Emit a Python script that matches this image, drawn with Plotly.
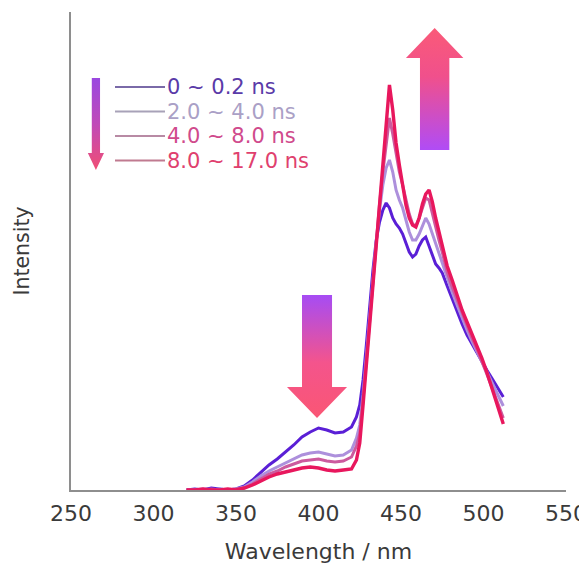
import plotly.graph_objects as go

# ---------------- data ----------------
wavelength = [320, 325, 330, 335, 340, 345, 350, 355, 360, 365, 370, 375, 380, 385, 390, 395,
              400, 405, 410, 415, 420, 423, 425, 427, 429, 431, 433, 435, 437, 439, 441, 443,
              445, 447, 449, 451, 453, 455, 457, 459, 461, 463, 465, 467, 469, 471, 473, 475,
              478, 481, 484, 487, 490, 493, 496, 499, 502, 505, 508, 510, 512]

i_0_02 = [0, 1, 0, 2, 1, 0, 1, 4, 10, 18, 25, 31, 38, 45, 53, 58,
          62, 60, 57, 58, 63, 73, 85, 110, 145, 185, 220, 250, 268, 280, 287, 282,
          272, 266, 262, 256, 246, 238, 233, 236, 244, 250, 253, 244, 234, 226, 222, 217,
          204, 191, 178, 166, 155, 146, 137, 128, 120, 112, 104, 98, 93]

i_2_4 = [0, 0, 1, 0, 1, 0, 1, 3, 8, 14, 19, 23, 27, 31, 35, 37,
         38, 36, 34, 35, 40, 52, 65, 95, 135, 175, 212, 248, 280, 305, 322, 330,
         318, 300, 290, 282, 270, 258, 250, 250, 256, 264, 272, 266, 256, 246, 238, 228,
         212, 198, 185, 172, 160, 149, 139, 128, 118, 108, 98, 91, 84]

i_4_8 = [0, 0, 0, 1, 0, 0, 1, 2, 6, 11, 16, 19, 23, 26, 29, 30,
         31, 29, 28, 29, 33, 44, 56, 90, 130, 172, 212, 250, 286, 318, 348, 372,
         356, 336, 318, 305, 290, 276, 266, 264, 272, 282, 292, 290, 276, 262, 250, 238,
         218, 203, 190, 176, 164, 152, 141, 129, 116, 103, 90, 81, 72]

i_8_17 = [0, 0, 1, 0, 0, 1, 0, 2, 5, 9, 13, 16, 18, 20, 22, 23,
          22, 20, 19, 20, 21, 30, 47, 85, 125, 170, 210, 250, 290, 330, 370, 405,
          380, 347, 325, 305, 285, 272, 265, 263, 272, 286, 296, 300, 288, 272, 258, 244,
          224, 210, 195, 180, 168, 156, 145, 132, 118, 103, 88, 77, 66]

series_names = ["0 ~ 0.2 ns", "2.0 ~ 4.0 ns", "4.0 ~ 8.0 ns", "8.0 ~ 17.0 ns"]
series_values = [i_0_02, i_2_4, i_4_8, i_8_17]

x_ticks = [250, 300, 350, 400, 450, 500, 550]

# ---------------- styling ----------------
line_colors = ["#5a1fd6", "#ad90dc", "#cc5a9e", "#e8175d"]
line_widths = [3.0, 3.0, 3.0, 3.4]
legend_text_colors = ["#5a3aa8", "#aaa0c6", "#d04a8c", "#e0406e"]
legend_line_colors = ["#7a6aa8", "#a8a2b8", "#b88aa4", "#c07a90"]
FONT = "DejaVu Sans"

fig = go.Figure()

for name, vals, col, w in zip(series_names, series_values, line_colors, line_widths):
    fig.add_trace(go.Scatter(x=wavelength, y=vals, mode="lines", name=name,
                             line=dict(color=col, width=w), showlegend=False,
                             hoverinfo="skip"))


def arrow(xc, shaft_half, head_half, y_tail, y_base, y_tip):
    xs = [xc - shaft_half, xc + shaft_half, xc + shaft_half, xc + head_half,
          xc, xc - head_half, xc - shaft_half, xc - shaft_half]
    ys = [y_tail, y_tail, y_base, y_base, y_tip, y_base, y_base, y_tail]
    return xs, ys


purple = "#a64cf4"
pink = "#fa5674"

# down arrow at 400 nm
ax, ay = arrow(399.1, 9.1, 18.2, 195, 103, 72)
fig.add_trace(go.Scatter(x=ax, y=ay, mode="lines", fill="toself", line=dict(width=0),
                         fillgradient=dict(type="vertical", start=72, stop=195,
                                           colorscale=[[0, pink], [0.45, "#f4548c"], [1, purple]]),
                         showlegend=False, hoverinfo="skip"))
# up arrow at 470 nm
ax, ay = arrow(470.4, 8.9, 17.4, 340, 432, 462)
fig.add_trace(go.Scatter(x=ax, y=ay, mode="lines", fill="toself", line=dict(width=0),
                         fillgradient=dict(type="vertical", start=340, stop=462,
                                           colorscale=[[0, "#b04cf6"], [0.6, "#f0508c"], [1, "#fa5a78"]]),
                         showlegend=False, hoverinfo="skip"))
# small arrow next to legend
ax, ay = arrow(265.1, 2.5, 4.9, 412, 337, 320)
fig.add_trace(go.Scatter(x=ax, y=ay, mode="lines", fill="toself", line=dict(width=0),
                         fillgradient=dict(type="vertical", start=320, stop=412,
                                           colorscale=[[0, "#f04e74"], [0.5, "#c04ab8"], [1, "#9a48e0"]]),
                         showlegend=False, hoverinfo="skip"))

# page has an 8px body margin: compensate so the plot area lands at x 71..566, y 12..490
W, H = 587, 572
OFF = 8
L, T = 71 - OFF, 12 - OFF
R = W - (566 - OFF)
B = H - (490 - OFF)
pw, ph = W - L - R, H - T - B


def px2paper(px, py):
    # px, py are window coordinates
    return (px - OFF - L) / pw, 1 - (py - OFF - T) / ph


rows_y = [87, 111.5, 136, 160.5]
for name, yy, tc, lc in zip(series_names, rows_y, legend_text_colors, legend_line_colors):
    x0, y0 = px2paper(115, yy)
    x1, _ = px2paper(165, yy)
    fig.add_shape(type="line", xref="paper", yref="paper", x0=x0, x1=x1, y0=y0, y1=y0,
                  line=dict(color=lc, width=2))
    tx, _ = px2paper(165, yy)
    fig.add_annotation(text=name, xref="paper", yref="paper", x=tx, y=y0,
                       xanchor="left", yanchor="middle", showarrow=False,
                       font=dict(family=FONT, size=21, color=tc))

fig.update_layout(
    width=W, height=H,
    margin=dict(l=L, r=R, t=T, b=B),
    paper_bgcolor="white", plot_bgcolor="white",
    font=dict(family=FONT, color="#3a3a3a"),
    xaxis=dict(range=[250, 550], tickvals=x_ticks, ticks="", showgrid=False,
               zeroline=False, showline=True, linecolor="#8e8e8e", linewidth=2,
               automargin=False,
               tickfont=dict(family=FONT, size=22, color="#3a3a3a"),
               ticklabelstandoff=3,
               title=dict(text="Wavelength / nm", standoff=18,
                          font=dict(family=FONT, size=22, color="#3a3a3a"))),
    yaxis=dict(range=[0, 478], showticklabels=False, ticks="", showgrid=False,
               zeroline=False, showline=True, linecolor="#8e8e8e", linewidth=2,
               automargin=False,
               title=dict(text="Intensity", standoff=34,
                          font=dict(family=FONT, size=20.5, color="#3a3a3a"))),
)

fig.write_html("out.html")
